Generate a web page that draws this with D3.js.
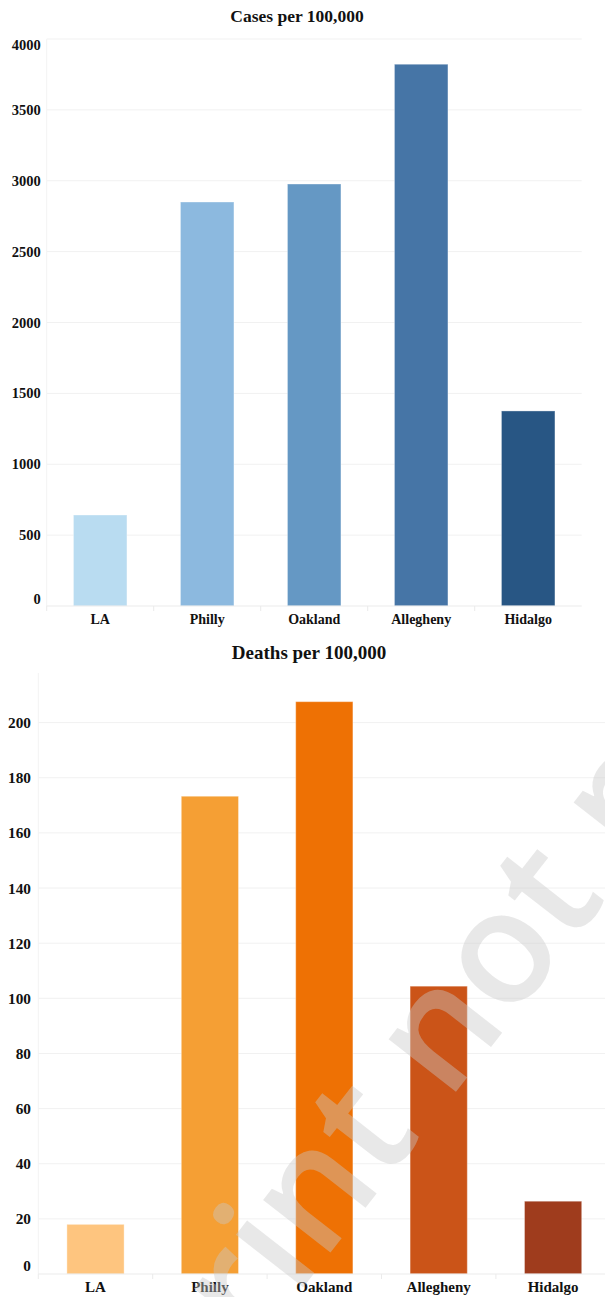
<!DOCTYPE html>
<html>
<head>
<meta charset="utf-8">
<script src="https://cdn.jsdelivr.net/npm/d3@7/dist/d3.min.js"></script>
<style>
  html, body { margin: 0; padding: 0; background: #fff; }
  svg { display: block; }
  text { font-family: "Liberation Serif", "Times New Roman", serif; font-weight: bold; fill: #111; }
</style>
</head>
<body>
<svg id="chart" width="605" height="1297"></svg>
<script>
// Counties compared
const categories = ["LA", "Philly", "Oakland", "Allegheny", "Hidalgo"];

// Cumulative cases per 100,000 residents
const casesPer100k = [642, 2850, 2977, 3822, 1376];
// Cumulative deaths per 100,000 residents
const deathsPer100k = [18.0, 173.3, 207.6, 104.4, 26.4];

// Axis tick values
const caseTicks = [0, 500, 1000, 1500, 2000, 2500, 3000, 3500, 4000];
const deathTicks = [0, 20, 40, 60, 80, 100, 120, 140, 160, 180, 200];

// Sequential palettes, one colour per county
const caseColors = ["#b9dcf1", "#8cb9df", "#6598c4", "#4675a6", "#285684"];
const deathColors = ["#fec57f", "#f59f34", "#ee7104", "#cb5418", "#9f3c1d"];

const svg = d3.select("#chart");

function drawPanel(cfg) {
  const g = svg.append("g");
  const x = d3.scaleBand()
    .domain(categories)
    .range([cfg.left, cfg.right])
    .paddingInner(0.5)
    .paddingOuter(0.25);
  const y = d3.scaleLinear()
    .domain(cfg.domain)
    .range([cfg.bottom, cfg.top]);

  // horizontal gridlines
  g.append("g").selectAll("line")
    .data(cfg.ticks.filter(t => t > 0))
    .join("line")
    .attr("x1", cfg.left).attr("x2", cfg.gridRight)
    .attr("y1", d => y(d)).attr("y2", d => y(d))
    .attr("stroke", "#f1f1f1").attr("stroke-width", 1);

  // left frame line
  g.append("line")
    .attr("x1", cfg.left).attr("x2", cfg.left)
    .attr("y1", cfg.top).attr("y2", cfg.bottom)
    .attr("stroke", "#f3f3f3");

  // bars
  g.append("g").selectAll("rect")
    .data(categories.map((c, i) => ({ c, v: cfg.values[i], col: cfg.colors[i] })))
    .join("rect")
    .attr("x", d => x(d.c))
    .attr("width", x.bandwidth())
    .attr("y", d => y(d.v))
    .attr("height", d => y(0) - y(d.v))
    .attr("fill", d => d.col)
    .attr("stroke", "rgba(255,255,255,0.35)")
    .attr("stroke-width", 1);

  // category axis: baseline with ticks at band boundaries
  g.append("line")
    .attr("x1", cfg.left).attr("x2", cfg.gridRight)
    .attr("y1", y(0)).attr("y2", y(0))
    .attr("stroke", "#ebebeb");
  const bounds = categories.map(c => x(c) - x.step() * x.paddingInner() / 2);
  g.append("g").selectAll("line")
    .data(bounds)
    .join("line")
    .attr("x1", d => d).attr("x2", d => d)
    .attr("y1", y(0)).attr("y2", y(0) + 5)
    .attr("stroke", "#ebebeb");

  g.append("g").selectAll("text")
    .data(categories)
    .join("text")
    .attr("x", d => x(d) + x.bandwidth() / 2)
    .attr("y", cfg.xLabelY)
    .attr("text-anchor", "middle")
    .attr("dominant-baseline", "central")
    .style("font-size", cfg.xLabelSize + "px")
    .text(d => d);

  // value axis labels (first and last flush with the plot edges)
  const maxTick = d3.max(cfg.ticks);
  g.append("g").selectAll("text")
    .data(cfg.ticks)
    .join("text")
    .attr("x", cfg.labelRight)
    .attr("y", d => {
      if (d === 0) return y(d) - cfg.flushOffset;
      if (d === maxTick && Math.abs(y(d) - cfg.top) < 2) return y(d) + cfg.flushOffset - 2;
      return y(d);
    })
    .attr("text-anchor", "end")
    .attr("dominant-baseline", "central")
    .style("font-size", cfg.yLabelSize + "px")
    .text(d => d);

  // panel title
  g.append("text")
    .attr("x", cfg.titleX)
    .attr("y", cfg.titleY)
    .attr("text-anchor", "middle")
    .style("font-size", cfg.titleSize + "px")
    .text(cfg.title);
}

drawPanel({
  title: "Cases per 100,000", titleX: 297, titleY: 22, titleSize: 17.5,
  values: casesPer100k, colors: caseColors, ticks: caseTicks,
  domain: [0, 4000],
  left: 46.7, right: 581.7, gridRight: 581.7, top: 39, bottom: 606,
  labelRight: 40.7, yLabelSize: 14.5, xLabelY: 619, xLabelSize: 14, flushOffset: 7.5
});

drawPanel({
  title: "Deaths per 100,000", titleX: 309, titleY: 659, titleSize: 19,
  values: deathsPer100k, colors: deathColors, ticks: deathTicks,
  domain: [0, 218],
  left: 38.3, right: 610.3, gridRight: 610, top: 673, bottom: 1274,
  labelRight: 31, yLabelSize: 15.3, xLabelY: 1287, xLabelSize: 15, flushOffset: 8.5
});

// diagonal watermark across the lower panel
const wm = svg.append("g")
  .attr("transform", "translate(448,1102) rotate(-52)");
const wmText = wm.append("text")
  .attr("x", 0).attr("y", 0)
  .style("font-family", "'Open Sans', sans-serif")
  .style("font-weight", "600")
  .style("font-size", "158px")
  .style("fill", "rgba(200,200,200,0.42)")
  .text("Preprint not peer reviewed");
const anchorPos = wmText.node().getStartPositionOfChar(9);
wmText.attr("x", -anchorPos.x);
</script>
</body>
</html>
